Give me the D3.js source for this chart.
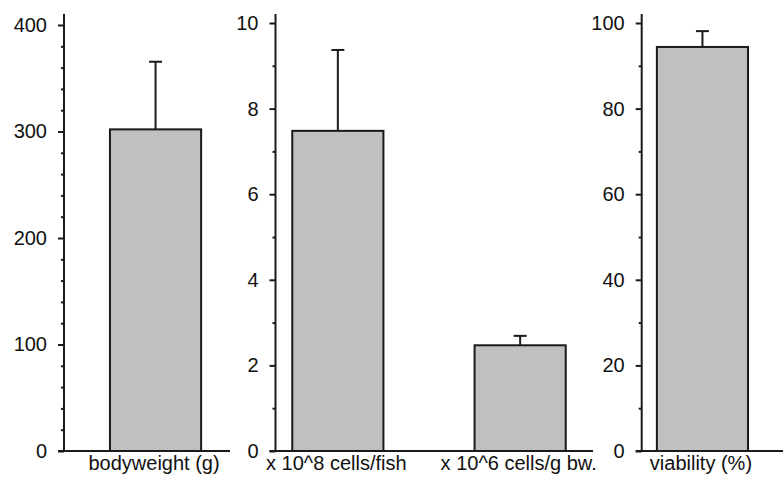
<!DOCTYPE html>
<html>
<head>
<meta charset="utf-8">
<script src="https://cdn.jsdelivr.net/npm/d3@7"></script>
<style>
  html, body { margin: 0; padding: 0; background: #fff; }
  svg { display: block; }
  .tick text { font-family: "Liberation Sans", Arial, sans-serif; font-size: 20px; fill: #111; }
  .cat { font-family: "Liberation Sans", Arial, sans-serif; font-size: 20px; fill: #111; }
</style>
</head>
<body>
<svg id="chart" width="783" height="486"></svg>
<script>
// Measurements shown as bars (mean with upper SD whisker)
const categories = ["bodyweight (g)", "x 10^8 cells/fish", "x 10^6 cells/g bw.", "viability (%)"];
const means = [302, 7.48, 2.47, 94.4];
const sds = [63.5, 1.89, 0.22, 3.7];

// Which y-axis panel each category uses
const panelOf = [0, 1, 1, 2];

// Y-axis tick values per panel
const majorTicks = [
  [0, 100, 200, 300, 400],
  [0, 2, 4, 6, 8, 10],
  [0, 20, 40, 60, 80, 100]
];
const minorTicks = [
  [20, 40, 60, 80, 120, 140, 160, 180, 220, 240, 260, 280, 320, 340, 360, 380],
  [1, 3, 5, 7, 9],
  [10, 30, 50, 70, 90]
];
const domains = [[0, 400], [0, 10], [0, 100]];

const svg = d3.select("#chart");
const ink = "#1a1a1a";
const baseY = 451;

// One shared band scale places all four bars
const x = d3.scaleBand()
  .domain(categories)
  .range([64.4, 793.6])
  .paddingInner(0.5)
  .paddingOuter(0.25);

// Panel geometry: y-axis position, top of value range, baseline extent
const panels = [
  { axisX: 64,    top: 25, lineEnd: 230 },
  { axisX: 275.5, top: 23, lineEnd: 593 },
  { axisX: 641.7, top: 23, lineEnd: 790 }
];

const yScales = panels.map((p, i) =>
  d3.scaleLinear().domain(domains[i]).range([baseY, p.top]));

panels.forEach((p, i) => {
  const y = yScales[i];
  const g = svg.append("g").attr("transform", `translate(${p.axisX},0)`);

  // major ticks with labels
  const major = g.append("g").call(
    d3.axisLeft(y).tickValues(majorTicks[i]).tickSize(6).tickPadding(11)
      .tickFormat(d3.format("d")));
  major.select(".domain").remove();
  major.selectAll(".tick line").attr("stroke", ink).attr("stroke-width", 2);

  // minor ticks
  const minor = g.append("g").call(
    d3.axisLeft(y).tickValues(minorTicks[i]).tickSize(3).tickFormat(""));
  minor.select(".domain").remove();
  minor.selectAll(".tick line").attr("stroke", ink).attr("stroke-width", 2);

  // vertical axis line
  g.append("line")
    .attr("x1", 0).attr("x2", 0)
    .attr("y1", baseY).attr("y2", 14)
    .attr("stroke", ink).attr("stroke-width", 2);

  // baseline
  svg.append("line")
    .attr("x1", p.axisX - 6).attr("x2", p.lineEnd)
    .attr("y1", baseY).attr("y2", baseY)
    .attr("stroke", ink).attr("stroke-width", 2);
});

// bars, whiskers, category labels
categories.forEach((c, i) => {
  const y = yScales[panelOf[i]];
  const x0 = x(c), w = x.bandwidth(), cx = x0 + w / 2;

  svg.append("line")
    .attr("x1", cx).attr("x2", cx)
    .attr("y1", y(means[i])).attr("y2", y(means[i] + sds[i]))
    .attr("stroke", ink).attr("stroke-width", 2);
  svg.append("line")
    .attr("x1", cx - 6.5).attr("x2", cx + 6.5)
    .attr("y1", y(means[i] + sds[i])).attr("y2", y(means[i] + sds[i]))
    .attr("stroke", ink).attr("stroke-width", 2);

  svg.append("rect")
    .attr("x", x0).attr("y", y(means[i]))
    .attr("width", w).attr("height", baseY - y(means[i]))
    .attr("fill", "#c0c0c0")
    .attr("stroke", ink).attr("stroke-width", 2);

  svg.append("text")
    .attr("class", "cat")
    .attr("x", cx - 1.5).attr("y", 470)
    .attr("text-anchor", "middle")
    .text(c);
});
</script>
</body>
</html>
